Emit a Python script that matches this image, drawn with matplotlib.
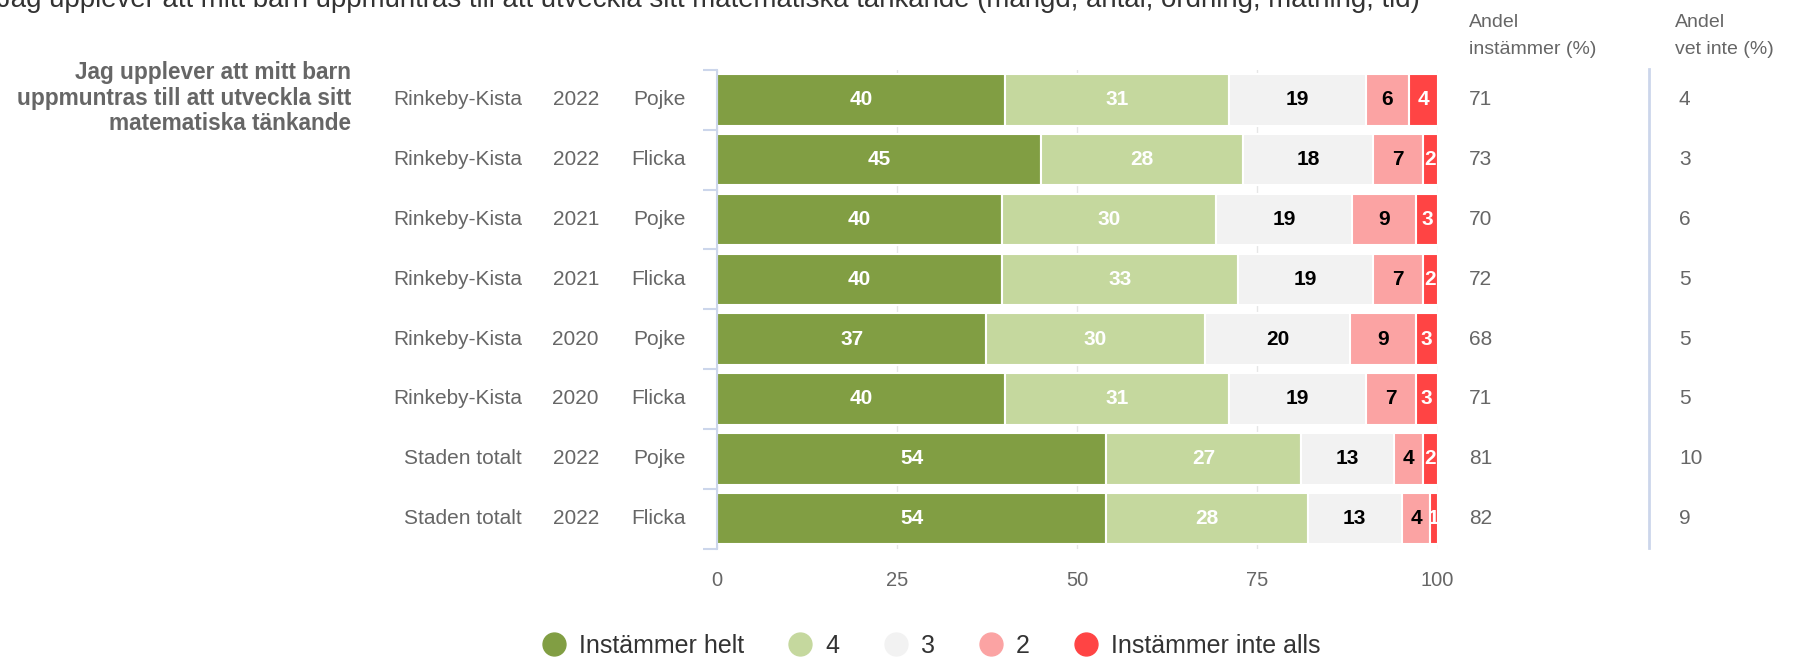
import matplotlib
matplotlib.use('Agg')
import matplotlib.pyplot as plt
import matplotlib.transforms as mtransforms
import numpy as np

plt.rcParams['font.family'] = ['Liberation Sans', 'DejaVu Sans']

# data
areas = ['Rinkeby-Kista'] * 6 + ['Staden totalt'] * 2
years = ['2022', '2022', '2021', '2021', '2020', '2020', '2022', '2022']
sexes = ['Pojke', 'Flicka', 'Pojke', 'Flicka', 'Pojke', 'Flicka', 'Pojke', 'Flicka']
helt = [40, 45, 40, 40, 37, 40, 54, 54]
fyra = [31, 28, 30, 33, 30, 31, 27, 28]
tre = [19, 18, 19, 19, 20, 19, 13, 13]
tva = [6, 7, 9, 7, 9, 7, 4, 4]
inte = [4, 2, 3, 2, 3, 3, 2, 1]
andel_instammer = [71, 73, 70, 72, 68, 71, 81, 82]
andel_vet_inte = [4, 3, 6, 5, 5, 5, 10, 9]

series_names = ['Instämmer helt', '4', '3', '2', 'Instämmer inte alls']
colors = ['#819E43', '#C5D89E', '#F2F2F2', '#FBA3A3', '#FF4444']
text_colors = ['white', 'white', 'black', 'black', 'white']

question = 'Jag upplever att mitt barn\nuppmuntras till att utveckla sitt\nmatematiska tänkande'
title = ('Jag upplever att mitt barn uppmuntras till att utveckla sitt '
         'matematiska tänkande (mängd, antal, ordning, mätning, tid)')

W, H = 1799, 657
fig = plt.figure(figsize=(W / 100, H / 100), dpi=100)
ax = fig.add_axes([717 / W, 1 - 548.5 / H, 720.6 / W, 478.5 / H])

data = np.array([helt, fyra, tre, tva, inte], dtype=float)
widths = data / data.sum(axis=0) * 100
n = len(areas)
y = np.arange(n)

left = np.zeros(n)
for i in range(5):
    ax.barh(y, widths[i], left=left, height=0.86, color=colors[i],
            edgecolor='white', linewidth=1.5, zorder=2, label=series_names[i])
    for j in range(n):
        ax.text(left[j] + widths[i][j] / 2, y[j], str(int(data[i][j])),
                ha='center', va='center', fontsize=15, fontweight='bold',
                color=text_colors[i], zorder=3)
    left += widths[i]

ax.set_xlim(0, 100)
ax.set_ylim(n - 0.5, -0.5)
ax.set_xticks([0, 25, 50, 75, 100])
ax.tick_params(axis='x', length=0, labelsize=14.5, labelcolor='#666666', pad=16)
ax.set_yticks([])
ax.xaxis.grid(True, color='#e6e6e6', linewidth=1, zorder=0)
ax.set_axisbelow(True)
for s in ['top', 'right', 'bottom']:
    ax.spines[s].set_visible(False)
ax.spines['left'].set_color('#ccd6eb')
ax.spines['left'].set_linewidth(1.5)
# bracket ticks at category boundaries
ax.set_yticks(np.arange(n + 1) - 0.5, minor=True)
ax.tick_params(axis='y', which='minor', length=10, color='#ccd6eb', width=1.5)

trans = mtransforms.blended_transform_factory(fig.transFigure, ax.transData)
for j in range(n):
    ax.text(522 / W, y[j], areas[j], transform=trans, ha='right', va='center',
            fontsize=15, color='#666666')
    ax.text(599 / W, y[j], years[j], transform=trans, ha='right', va='center',
            fontsize=15, color='#666666')
    ax.text(686 / W, y[j], sexes[j], transform=trans, ha='right', va='center',
            fontsize=15, color='#666666')
    ax.text(1469 / W, y[j], str(andel_instammer[j]), transform=trans, ha='left',
            va='center', fontsize=15, color='#666666')
    ax.text(1679 / W, y[j], str(andel_vet_inte[j]), transform=trans, ha='left',
            va='center', fontsize=15, color='#666666')

fig.text(1469 / W, 1 - 36 / H, 'Andel\ninstämmer (%)', ha='left', va='center',
         fontsize=14, color='#666666', linespacing=1.72)
fig.text(1675 / W, 1 - 36 / H, 'Andel\nvet inte (%)', ha='left', va='center',
         fontsize=14, color='#666666', linespacing=1.72)

# separator line between right columns
fig.add_artist(plt.Line2D([1649 / W, 1649 / W], [1 - 69 / H, 1 - 548 / H],
                          color='#ccd6eb', linewidth=2))

fig.text(351 / W, 1 - 98 / H, question, ha='right', va='center', fontsize=16.3,
         fontweight='bold', color='#666666', linespacing=1.12)

fig.text(-3 / W, 1 - 7 / H, title, ha='left', va='baseline', fontsize=19.9,
         color='#333333')

markers = [plt.Line2D([0], [0], marker='o', linestyle='', markersize=16.5,
                      markerfacecolor=c, markeredgecolor=c) for c in colors]
fig.legend(markers, series_names, loc='center', ncol=5,
           bbox_to_anchor=(931 / W, 1 - 646 / H), frameon=False, fontsize=18,
           labelcolor='#333333', handlelength=1.0, handletextpad=0.5,
           columnspacing=1.75, borderpad=0, borderaxespad=0)

fig.savefig('out.png', dpi=100)
